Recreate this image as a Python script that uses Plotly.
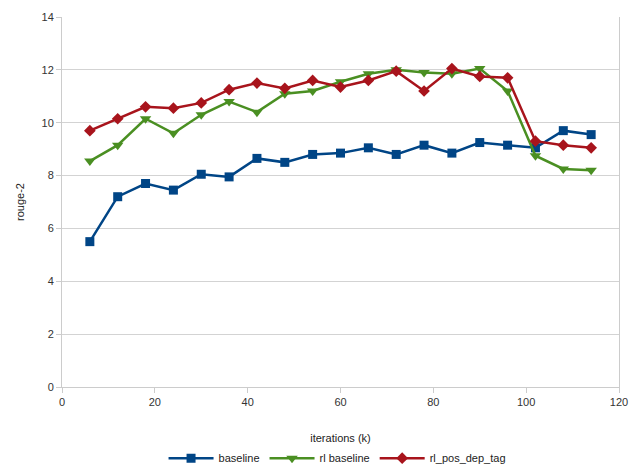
import plotly.graph_objects as go

iterations = [6, 12, 18, 24, 30, 36, 42, 48, 54, 60, 66, 72, 78, 84, 90, 96, 102, 108, 114]
baseline = [5.5, 7.2, 7.7, 7.45, 8.05, 7.95, 8.65, 8.5, 8.8, 8.85, 9.05, 8.8, 9.15, 8.85, 9.25, 9.15, 9.05, 9.7, 9.55]
rl_baseline = [8.55, 9.15, 10.15, 9.6, 10.3, 10.8, 10.4, 11.1, 11.2, 11.55, 11.85, 12.0, 11.9, 11.85, 12.05, 11.2, 8.75, 8.25, 8.2]
rl_pos_dep_tag = [9.7, 10.15, 10.6, 10.55, 10.75, 11.25, 11.5, 11.3, 11.6, 11.35, 11.6, 11.95, 11.2, 12.05, 11.75, 11.7, 9.3, 9.15, 9.05]

series = [
    ("baseline", baseline, "#004586", "square", 9),
    ("rl baseline", rl_baseline, "#4a8f22", "triangle-down", 10),
    ("rl_pos_dep_tag", rl_pos_dep_tag, "#a8141c", "diamond", 9),
]

fig = go.Figure()
for name, vals, color, sym, size in series:
    fig.add_trace(go.Scatter(
        x=iterations, y=vals, name=name, mode="lines+markers",
        line=dict(color=color, width=2.5),
        marker=dict(symbol=sym, size=size, color=color),
    ))

axis_font = dict(family="Liberation Sans, Arial, sans-serif", size=11, color="#333333")
fig.update_layout(
    width=630, height=468,
    margin=dict(l=62, r=11, t=17, b=81),
    paper_bgcolor="white", plot_bgcolor="white",
    font=axis_font,
    showlegend=True,
    legend=dict(orientation="h", x=0.535, xanchor="center", xref="container",
                y=0.021, yanchor="middle", yref="container",
                itemwidth=45,
                font=dict(family="Liberation Sans, Arial, sans-serif", size=11, color="#222222")),
    xaxis=dict(
        range=[0, 120], tickvals=[0, 20, 40, 60, 80, 100, 120],
        showgrid=False, zeroline=False, automargin=False,
        showline=True, linecolor="#cccccc", linewidth=1,
        ticks="outside", ticklen=5, tickcolor="#cccccc",
        title=dict(text="iterations (k)", font=dict(size=11, color="#222222"), standoff=27),
    ),
    yaxis=dict(
        range=[0, 14], tickvals=[0, 2, 4, 6, 8, 10, 12, 14],
        showgrid=True, gridcolor="#d3d3d3", gridwidth=1, zeroline=False, automargin=False,
        showline=True, linecolor="#cccccc", linewidth=1, mirror=True,
        ticks="outside", ticklen=5, tickcolor="#cccccc",
        title=dict(text="rouge-2", font=dict(size=11, color="#222222"), standoff=14),
    ),
)

fig.write_html("out.html")
